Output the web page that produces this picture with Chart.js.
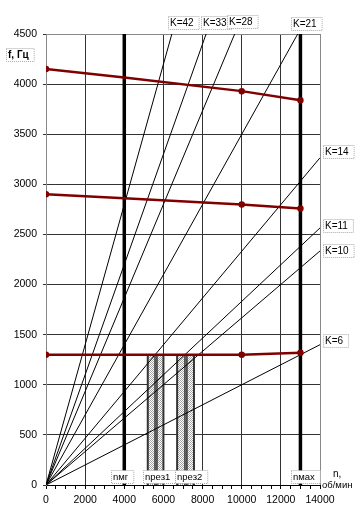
<!DOCTYPE html>
<html>
<head>
<meta charset="utf-8">
<script src="https://cdn.jsdelivr.net/npm/chart.js@4.4.0/dist/chart.umd.min.js"></script>
<style>
  html, body { margin: 0; padding: 0; background: #fff; }
  #wrap { width: 362px; height: 528px; position: relative; }
</style>
</head>
<body>
<div id="wrap"><canvas id="freqChart"></canvas></div>
<script>
// rotor speed n (rpm) where the frequency curves have points
const speeds = [0, 4000, 10000, 13000];
// natural frequencies f (Hz) for the three modes
const mode1 = [4150, 4065, 3930, 3840];
const mode2 = [2900, 2860, 2800, 2760];
const mode3 = [1300, 1300, 1300, 1320];

// harmonic rays K, from the origin to where each leaves the plot
const harmonics = [42, 33, 28, 21, 14, 11, 10, 6];
const rayEndN = [6430, 8180, 9640, 12860, 14000, 14000, 14000, 14000];
const rayEndF = [4500, 4500, 4500, 4500, 3265, 2565, 2335, 1400];

// idle and max speed
const nIdle = 4000;
const nMax = 13000;

// resonance zones (rpm): outer edges and the two inner lines
const res1 = [5200, 5570, 5670, 6000];
const res2 = [6700, 7100, 7200, 7560];
const resTop = 1300;

// tick labels
const xTickLabels = [0, 2000, 4000, 6000, 8000, 10000, 12000, 14000];
const yTickLabels = [0, 500, 1000, 1500, 2000, 2500, 3000, 3500, 4000, 4500];

const canvas = document.getElementById('freqChart');
const ctx = canvas.getContext('2d');

// light grey dotted fill like the excel pattern
function dotPattern() {
  const c = document.createElement('canvas');
  c.width = 2; c.height = 2;
  const g = c.getContext('2d');
  g.fillStyle = '#fff'; g.fillRect(0, 0, 2, 2);
  g.fillStyle = '#a6a6a6'; g.fillRect(0, 0, 1, 1); g.fillRect(1, 1, 1, 1);
  return ctx.createPattern(c, 'repeat');
}
const pattern = dotPattern();

const datasets = [];
[mode1, mode2, mode3].forEach(m => datasets.push({
  data: speeds.map((n, i) => ({ x: n, y: m[i] })),
  showLine: true, borderColor: '#800000', backgroundColor: '#800000',
  borderWidth: 2.5, pointRadius: [2, 0, 2, 2], pointHoverRadius: 2, order: 1
}));
[nIdle, nMax].forEach(n => datasets.push({
  data: [{ x: n, y: 0 }, { x: n, y: 4500 }],
  showLine: true, borderColor: '#000', borderWidth: 3.5, pointRadius: 0, order: 2
}));
harmonics.forEach((k, i) => datasets.push({
  label: 'K=' + k,
  data: [{ x: 0, y: 0 }, { x: rayEndN[i], y: rayEndF[i] }],
  showLine: true, borderColor: '#000', borderWidth: 1, pointRadius: 0, order: 3
}));
[res1, res2].forEach(z => {
  datasets.push({
    data: [{ x: z[0], y: 0 }, { x: z[0], y: resTop }, { x: z[3], y: resTop }, { x: z[3], y: 0 }],
    showLine: true, fill: 'origin', backgroundColor: pattern,
    borderWidth: 0, pointRadius: 0, order: 5
  });
  z.forEach((n, j) => datasets.push({
    data: [{ x: n, y: 0 }, { x: n, y: resTop }],
    showLine: true, borderColor: '#333',
    borderWidth: (j === 0 || j === 3) ? 2 : 1.5, pointRadius: 0, order: 4
  }));
});

const notes = [
  { text: 'f, Гц', x: 8, y: 55, font: 'bold 10px "Liberation Sans"', box: true },
  { text: 'K=42', x: 170, y: 23, font: '10px "Liberation Sans"', box: true },
  { text: 'K=33', x: 203, y: 23, font: '10px "Liberation Sans"', box: true },
  { text: 'K=28', x: 229, y: 22, font: '10px "Liberation Sans"', box: true },
  { text: 'K=21', x: 293, y: 24, font: '10px "Liberation Sans"', box: true },
  { text: 'K=14', x: 325, y: 152, font: '10px "Liberation Sans"', box: true },
  { text: 'K=11', x: 325, y: 226, font: '10px "Liberation Sans"', box: true },
  { text: 'K=10', x: 325, y: 251, font: '10px "Liberation Sans"', box: true },
  { text: 'K=6', x: 325, y: 341, font: '10px "Liberation Sans"', box: true },
  { text: 'nмг', x: 113, y: 477, font: '9.5px "Liberation Sans"', box: true },
  { text: 'nрез1', x: 145, y: 477, font: '9.5px "Liberation Sans"', box: true },
  { text: 'nрез2', x: 177, y: 477, font: '9.5px "Liberation Sans"', box: true },
  { text: 'nмах', x: 293, y: 477, font: '9.5px "Liberation Sans"', box: true },
  { text: 'n,', x: 333, y: 474, font: '10px "Liberation Sans"', box: false },
  { text: 'об/мин', x: 322, y: 485, font: '9.5px "Liberation Sans"', box: false }
];

const notesPlugin = {
  id: 'notes',
  afterDatasetsDraw(chart) {
    const g = chart.ctx;
    g.save();
    g.textBaseline = 'middle';
    g.textAlign = 'left';
    notes.forEach(nt => {
      g.font = nt.font;
      const w = g.measureText(nt.text).width;
      if (nt.box) {
        const bx = Math.round(nt.x - 2) + 0.5, by = Math.round(nt.y - 7) + 0.5;
        g.fillStyle = '#fff';
        g.fillRect(bx, by, w + 7, 13);
        g.setLineDash([1, 1]);
        g.strokeStyle = '#a8a8a8';
        g.lineWidth = 1;
        g.strokeRect(bx, by, w + 7, 13);
        g.setLineDash([]);
      }
      g.fillStyle = '#000';
      g.fillText(nt.text, nt.x, nt.y);
    });
    g.restore();
  }
};

new Chart(ctx, {
  type: 'scatter',
  data: { datasets },
  options: {
    responsive: true,
    maintainAspectRatio: false,
    animation: false,
    layout: { padding: { left: 0, top: 34, right: 42, bottom: 0 } },
    plugins: { legend: { display: false }, tooltip: { enabled: false } },
    scales: {
      x: {
        type: 'linear', min: 0, max: 14000,
        afterFit: s => { s.height = 43; },
        ticks: {
          stepSize: 500, autoSkip: false, maxRotation: 0, padding: 5,
          color: '#000', font: { family: 'Liberation Sans', size: 10.5 },
          callback: v => xTickLabels.includes(v) ? String(v) : ''
        },
        grid: {
          color: c => (c.tick.value === 0 || c.tick.value === 14000) ? '#888'
            : (c.tick.value % 2000 === 0 ? '#333' : 'rgba(0,0,0,0)'),
          tickColor: '#000', tickLength: 4
        },
        border: { color: '#000', width: 1 }
      },
      y: {
        type: 'linear', min: 0, max: 4500,
        afterFit: s => { s.width = 46; },
        afterBuildTicks: s => { s.ticks = yTickLabels.map(v => ({ value: v })); },
        ticks: {
          padding: 6, color: '#000',
          font: { family: 'Liberation Sans', size: 10.5 },
          callback: v => String(v)
        },
        grid: {
          color: c => c.tick.value === 4500 ? '#888' : '#333',
          tickColor: '#333', tickLength: 3
        },
        border: { color: '#888', width: 1 }
      }
    }
  },
  plugins: [notesPlugin]
});
</script>
</body>
</html>
